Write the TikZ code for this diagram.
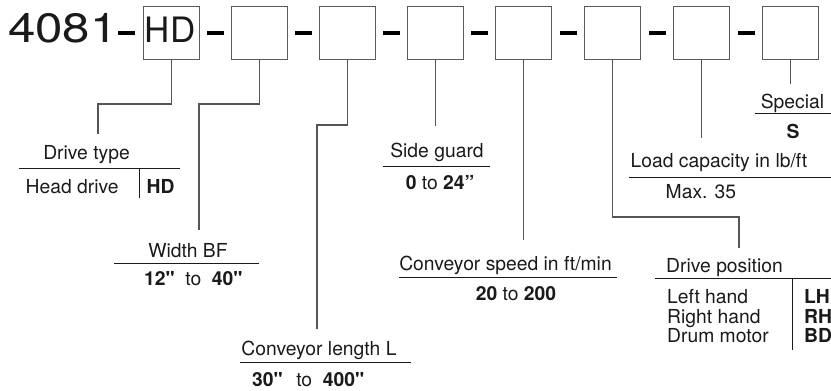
\documentclass[tikz,border=0pt]{standalone}
\usepackage{fontspec}
\usepackage{graphicx}
\setmainfont{TeX Gyre Heros}[Ligatures=TeXOff]
\definecolor{ink}{HTML}{1A1A1A}
\definecolor{linegray}{HTML}{555555}
\definecolor{boxgray}{HTML}{5A5A5A}
\newcommand{\gapsp}{\hspace{0.55em}}
\begin{document}
\begin{tikzpicture}[x=1pt,y=-1pt,
  box/.style={draw=boxgray, line width=1.3pt, minimum width=56pt, minimum height=53pt, inner sep=0pt},
  dashbar/.style={fill=black, minimum width=17pt, minimum height=4.5pt, inner sep=0pt},
  conn/.style={draw=linegray, line width=1.2pt},
  uline/.style={draw=ink, line width=1pt},
  lbl/.style={font=\fontsize{19.3}{23}\selectfont, text=ink, inner sep=0pt},
  big/.style={font=\fontsize{41}{45}\selectfont, text=ink, inner sep=0pt},
  boxtext/.style={font=\fontsize{35}{40}\selectfont, text=ink, inner sep=0pt}]
\useasboundingbox (0,0) rectangle (831,391);

% code line
\node[big, anchor=base west] (code) at (8,42) {\scalebox{1.2}[1]{4081}};
\node[dashbar] (d0) at (126.5,33) {};
\node[box] (b1) at (171.5,33) {};
\node[boxtext] (hd) at (170,29.5) {HD};
\node[dashbar] (d1) at (215.5,33) {};
\node[box] (b2) at (259.5,33) {};
\node[dashbar] (d2) at (303.5,33) {};
\node[box] (b3) at (347.5,33) {};
\node[dashbar] (d3) at (391.5,33) {};
\node[box] (b4) at (435.5,33) {};
\node[dashbar] (d4) at (479.5,33) {};
\node[box] (b5) at (523.5,33) {};
\node[dashbar] (d5) at (568,33) {};
\node[box] (b6) at (612.5,33) {};
\node[dashbar] (d6) at (657,33) {};
\node[box] (b7) at (701.5,33) {};
\node[dashbar] (d7) at (746,33) {};
\node[box] (b8) at (790.5,33) {};

% connector end points
\coordinate (m1) at (98,104);   \coordinate (e1) at (98,134);
\coordinate (m2) at (199,104);  \coordinate (e2) at (199,230);
\coordinate (m3) at (317,125);  \coordinate (e3) at (317,329);
\coordinate (e4) at (435.5,126);
\coordinate (e5) at (523.5,240);
\coordinate (m6) at (739,217);  \coordinate (e6) at (739,248);
\coordinate (e7) at (701.5,138);
\coordinate (e8) at (790.5,84);

\draw[conn] (b1.south) |- (m1) -- (e1);
\draw[conn] (b2.south) |- (m2) -- (e2);
\draw[conn] (b3.south) |- (m3) -- (e3);
\draw[conn] (b4.south) -- (e4);
\draw[conn] (b5.south) -- (e5);
\draw[conn] (b6.south) |- (m6) -- (e6);
\draw[conn] (b7.south) -- (e7);
\draw[conn] (b8.south) -- (e8);

% Drive type
\node[lbl, anchor=base] (l1) at (86.5,159) {Drive type};
\draw[uline] (19,168) -- (180,168);
\node[lbl, anchor=base west] (l1a) at (25.5,193) {Head drive};
\draw[uline] (139,168) -- (139,198);
\node[lbl, anchor=base west] (l1b) at (146.5,193) {\textbf{HD}};

% Width BF
\node[lbl, anchor=base] (l2) at (188,257) {Width BF};
\draw[uline] (114,263) -- (259,263);
\node[lbl, anchor=base west] (l2a) at (144,285) {\textbf{12"}\gapsp to\gapsp \textbf{40"}};

% Conveyor length L
\node[lbl, anchor=base] (l3) at (319,355) {Conveyor length L};
\draw[uline] (240,362) -- (411,362);
\node[lbl, anchor=base west] (l3a) at (252,386) {\textbf{30"}\hspace{0.7em}to\gapsp \textbf{400"}};

% Side guard
\node[lbl, anchor=base] (l4) at (437,157) {Side guard};
\draw[uline] (383,166) -- (490,166);
\node[lbl, anchor=base] (l4a) at (440,189) {\textbf{0} to \textbf{24”}};

% Conveyor speed
\node[lbl, anchor=base] (l5) at (505.5,270) {Conveyor speed in ft/min};
\draw[uline] (399,277) -- (617,277);
\node[lbl, anchor=base] (l5a) at (516,300) {\textbf{20} to \textbf{200}};

% Drive position
\node[lbl, anchor=base] (l6) at (724.5,272) {Drive position};
\draw[uline] (655,278) -- (831,278);
\draw[uline] (792,278) -- (792,350);
\node[lbl, anchor=base west] (l6a) at (667,303) {Left hand};
\node[lbl, anchor=base west] (l6b) at (667,323) {Right hand};
\node[lbl, anchor=base west] (l6c) at (667,342) {Drum motor};
\node[lbl, anchor=base west] (l6d) at (804,303) {\textbf{LH}};
\node[lbl, anchor=base west] (l6e) at (804,323) {\textbf{RH}};
\node[lbl, anchor=base west] (l6f) at (804,342) {\textbf{BD}};

% Load capacity
\node[lbl, anchor=base west] (l7) at (630.5,167) {Load capacity in lb/ft};
\draw[uline] (629,177) -- (831,177);
\node[lbl, anchor=base west] (l7a) at (665.5,198) {Max. 35};

% Special
\node[lbl, anchor=base] (l8) at (792.5,108) {Special};
\draw[uline] (755,113) -- (831,113);
\node[lbl, anchor=base] (l8a) at (793,138) {\textbf{S}};
\end{tikzpicture}
\end{document}
